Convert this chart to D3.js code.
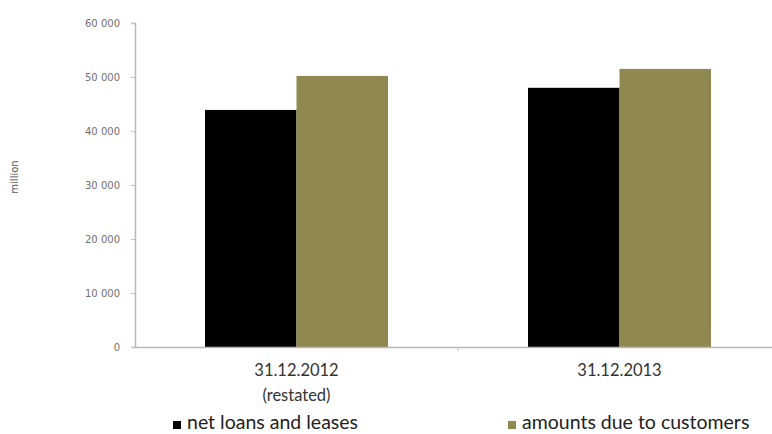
<!DOCTYPE html>
<html>
<head>
<meta charset="utf-8">
<script src="https://cdn.jsdelivr.net/npm/d3@7"></script>
<style>
  html, body { margin: 0; padding: 0; background: #fff; }
  svg { display: block; }
</style>
</head>
<body>
<svg id="chart" width="772" height="434"></svg>
<script>
// Balance sheet figures, in million
const categories = ["31.12.2012", "31.12.2013"];
const categoryLines = [["31.12.2012", "(restated)"], ["31.12.2013"]];
const seriesNames = ["net loans and leases", "amounts due to customers"];
const netLoans = [43900, 48000];
const dueToCustomers = [50200, 51500];
const yTicks = [0, 10000, 20000, 30000, 40000, 50000, 60000];
const yTitle = "million";

const colors = ["#000000", "#8f8850"];
const series = [netLoans, dueToCustomers];

const svg = d3.select("#chart");
const plotLeft = 135, plotRight = 781, plotTop = 23, plotBottom = 347;

const x = d3.scaleBand().domain(categories).range([plotLeft, plotRight]).paddingInner(0).paddingOuter(0);
const inner = d3.scaleBand().domain(seriesNames).range([0, x.bandwidth()]).paddingInner(0).paddingOuter(0.765);
const y = d3.scaleLinear().domain([0, 60000]).range([plotBottom, plotTop]);

const fmt = v => d3.format(",")(v).replace(/,/g, " ");

// y axis
const yAxis = svg.append("g")
  .attr("transform", `translate(${plotLeft},0)`)
  .call(d3.axisLeft(y).tickValues(yTicks).tickSize(4).tickPadding(11).tickFormat(fmt));
yAxis.select(".domain").attr("stroke", "#b8b8b8").attr("stroke-width", 1.5);
yAxis.selectAll(".tick line").attr("stroke", "#c4c4c4");
yAxis.selectAll(".tick text")
  .attr("fill", "#707070")
  .style("font-family", "'DejaVu Sans', sans-serif")
  .style("font-size", "10px");

// bars
categories.forEach((c, i) => {
  series.forEach((vals, s) => {
    svg.append("rect")
      .attr("x", x(c) + inner(seriesNames[s]))
      .attr("y", y(vals[i]))
      .attr("width", inner.bandwidth())
      .attr("height", y(0) - y(vals[i]))
      .attr("fill", colors[s]);
  });
});

// x axis
const xAxis = svg.append("g")
  .attr("transform", `translate(0,${plotBottom})`)
  .call(d3.axisBottom(x).tickValues([]).tickSizeOuter(0));
xAxis.select(".domain").attr("stroke", "#b8b8b8").attr("stroke-width", 1.5);
// divider tick between categories
svg.append("line")
  .attr("x1", x(categories[1])).attr("x2", x(categories[1]))
  .attr("y1", plotBottom).attr("y2", plotBottom + 4)
  .attr("stroke", "#c4c4c4");

// category labels, centred under each pair of bars
categories.forEach((c, i) => {
  const cx = x(c) + x.bandwidth() / 2;
  const t = svg.append("text")
    .attr("x", cx)
    .attr("y", 376)
    .attr("text-anchor", "middle")
    .attr("fill", "#333")
    .style("font-family", "Lato, 'Open Sans', sans-serif")
    .style("font-size", "16.5px");
  categoryLines[i].forEach((line, k) => {
    t.append("tspan")
      .attr("x", cx)
      .attr("dy", k === 0 ? 0 : 25)
      .text(line);
  });
});

// y title
svg.append("text")
  .attr("transform", "translate(18,177) rotate(-90)")
  .attr("text-anchor", "middle")
  .attr("fill", "#555")
  .style("font-family", "'DejaVu Sans', sans-serif")
  .style("font-size", "10px")
  .text(yTitle);

// legend
const legendX = [173, 508];
seriesNames.forEach((name, s) => {
  svg.append("rect")
    .attr("x", legendX[s]).attr("y", 421)
    .attr("width", 8).attr("height", 8)
    .attr("fill", colors[s]);
  svg.append("text")
    .attr("x", legendX[s] + 14)
    .attr("y", 429)
    .attr("fill", "#222")
    .style("font-family", "Lato, 'Open Sans', sans-serif")
    .style("font-size", "19.5px")
    .text(name);
});
</script>
</body>
</html>
